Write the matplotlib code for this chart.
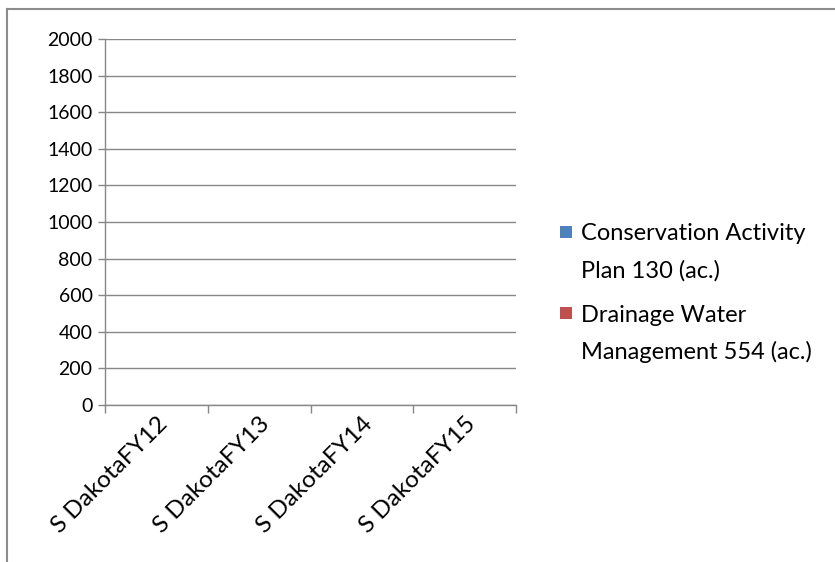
import matplotlib
matplotlib.use("Agg")
import matplotlib.pyplot as plt
from matplotlib.lines import Line2D
from matplotlib.patches import Rectangle
import numpy as np
import textwrap

plt.rcParams['font.family'] = ['Lato', 'DejaVu Sans']

categories = ["S DakotaFY12", "S DakotaFY13", "S DakotaFY14", "S DakotaFY15"]
series_names = ["Conservation Activity Plan 130 (ac.)", "Drainage Water Management 554 (ac.)"]
cap_values = [0, 0, 0, 0]
dwm_values = [0, 0, 0, 0]
colors = ["#4F81BD", "#C0504D"]
yticks = [0, 200, 400, 600, 800, 1000, 1200, 1400, 1600, 1800, 2000]

W, H = 835, 562
fig = plt.figure(figsize=(W/100, H/100), dpi=100)
ax = fig.add_axes([105/W, 1-405/H, (516-105)/W, (405-39)/H])

x = np.arange(len(categories))
w = 0.3
ax.bar(x - w/2, cap_values, w, color=colors[0])
ax.bar(x + w/2, dwm_values, w, color=colors[1])

grid_c = "#878787"
ax.set_xlim(-0.5, len(categories) - 0.5)
ax.set_ylim(0, 2000)
ax.set_yticks(yticks)
ax.set_yticklabels([str(v) for v in yticks], fontsize=14)
ax.yaxis.grid(True, color=grid_c, linewidth=1)
ax.set_axisbelow(True)

ax.set_xticks(np.arange(len(categories) + 1) - 0.5, minor=False)
ax.set_xticklabels([])
ax.set_xticks(x, minor=True)
ax.set_xticklabels(categories, minor=True, rotation=45, ha='right', va='top',
                   rotation_mode='anchor', fontsize=17.5)
ax.tick_params(axis='x', which='minor', length=0, pad=6)
ax.tick_params(axis='x', which='major', length=6, color=grid_c, width=1)
ax.tick_params(axis='y', length=5, color=grid_c, width=1, pad=4)

for s in ['top', 'right']:
    ax.spines[s].set_visible(False)
for s in ['left', 'bottom']:
    ax.spines[s].set_color(grid_c)
    ax.spines[s].set_linewidth(1)

# legend (drawn manually to put the swatch beside the first line)
entry_top = [232, 313]
line_gap = 36.5
for name, c, y0 in zip(series_names, colors, entry_top):
    fig.add_artist(Rectangle((560/W, 1-(y0+6)/H), 12/W, 12/H, transform=fig.transFigure,
                             facecolor=c, edgecolor='none'))
    for i, line in enumerate(textwrap.wrap(name, 21)):
        fig.text(581/W, 1-(y0 + i*line_gap)/H, line, ha='left', va='center_baseline',
                 fontsize=17, color='black')

fig.add_artist(Line2D([7/W, 1], [1-9/H, 1-9/H], transform=fig.transFigure,
                      color="#8c8c8c", linewidth=1.5))
fig.add_artist(Line2D([7/W, 7/W], [0, 1-9/H], transform=fig.transFigure,
                      color="#8c8c8c", linewidth=1.5))

fig.savefig("out.png", dpi=100)
